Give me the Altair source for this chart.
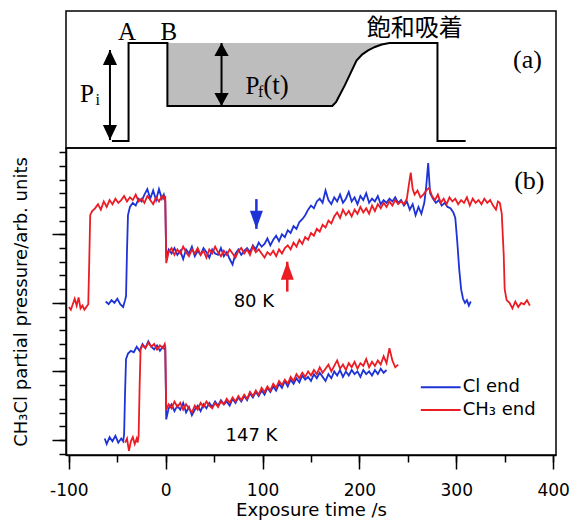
import altair as alt
import pandas as pd

BLUE = "#1d33d6"
RED = "#ec1c24"
SANS = "DejaVu Sans"
SERIF = "Liberation Serif"
CJK = "Noto Sans CJK JP"

X_DOMAIN = [-103, 403]
YB_DOMAIN = [-1.1, 21.3]
YA_DOMAIN = [-0.0714, 1.327]
PANEL_W = 490

# ---------------- panel (b) traces: (time s, signal arb.) ----------------
cl_80K = [(-62,10.1),(-59,9.9),(-56,10.2),(-53,10.0),(-50,10.3),(-47,9.9),(-44,9.7),(-42,10.2),(-41,10.5),(-40,13.8),(-39,16.4),(-37,17.0),(-34,17.3),(-31,17.1),(-28,17.6),(-25,17.4),(-22,17.9),(-19,18.3),(-16,17.6),(-13,18.2),(-10,17.5),(-7,18.3),(-4,17.6),(-2,17.9),(-0.5,17.4),(0.5,13.3),
 (3,13.9),(6,13.6),(9,14.0),(12,13.5),(15,13.8),(18,13.2),(21,13.9),(24,13.6),(27,14.1),(30,13.4),(33,13.8),(36,13.5),(39,14.0),(42,13.7),(45,13.3),(48,13.9),(51,13.6),(54,13.5),(57,14.0),(60,13.4),(63,13.7),(66,13.2),(69,12.8),(72,13.6),(75,13.9),(78,13.5),(81,13.8),(84,14.0),(87,13.7),(90,14.2),(93,13.9),(96,14.4),(99,14.1),
 (102,14.3),(105,14.7),(108,14.2),(111,14.6),(114,14.9),(117,14.5),(120,15.0),(123,14.8),(126,15.3),(129,15.1),(132,15.6),(135,15.4),(138,15.9),(141,16.1),(144,16.4),(147,16.8),(150,17.1),(153,16.9),(156,17.4),(159,17.6),(162,17.3),(165,18.2),(168,17.5),(171,17.2),(174,17.7),(177,17.4),(180,17.9),(183,17.3),(186,17.6),(189,18.1),(192,17.4),(195,17.7),(198,17.2),(201,17.8),(204,17.5),(207,18.0),(210,17.3),(213,17.6),(216,17.4),(219,17.8),(222,17.2),(225,17.5),(228,17.3),(231,17.6),(234,17.4),(237,17.7),(240,17.3),(243,17.5),(246,17.1),(249,17.4),(252,16.8),(255,17.2),(258,16.4),(261,17.0),(264,16.5),(267,17.3),(269,18.5),(271,20.2),(273,18.0),(276,17.6),(279,17.3),(282,17.5),(285,17.1),(288,17.3),(291,17.0),(294,16.9),(297,16.6),(299,16.2),(301,14.5),(303,12.5),(305,11.0),(307,10.3),(309,10.0),(311,10.2),(313,9.8),(315,10.1)]

ch3_80K = [(-100,9.7),(-98,9.5),(-96,9.9),(-94,10.3),(-92,9.8),(-90,10.4),(-88,9.6),(-86,9.8),(-84,9.5),(-82,9.7),(-80,9.9),(-79,13.0),(-78,16.4),(-76,16.7),(-73,16.9),(-70,17.2),(-67,16.8),(-64,17.4),(-61,17.0),(-58,17.5),(-55,17.2),(-52,17.6),(-49,17.3),(-46,17.5),(-43,17.8),(-40,17.4),(-37,17.7),(-34,17.5),(-31,17.9),(-28,17.4),(-25,17.6),(-22,17.3),(-19,17.8),(-16,17.5),(-13,17.2),(-10,17.7),(-7,17.4),(-4,17.8),(-2,17.6),(-0.5,17.8),(0.5,12.9),
 (3,13.7),(6,14.0),(9,13.5),(12,13.9),(15,13.6),(18,14.1),(21,13.7),(24,13.4),(27,13.9),(30,13.6),(33,14.0),(36,13.5),(39,13.8),(42,13.3),(45,13.9),(48,13.6),(51,14.1),(54,13.7),(57,13.4),(60,13.8),(63,13.5),(66,13.9),(69,13.6),(72,13.3),(75,13.8),(78,14.0),(81,13.6),(84,13.9),(87,13.5),(90,14.1),(93,13.7),(96,13.9),(99,13.6),(102,13.3),(105,13.7),(108,13.5),(111,13.8),(114,13.4),(117,13.9),(120,13.6),
 (123,14.0),(126,14.2),(129,13.9),(132,14.4),(135,14.1),(138,14.6),(141,14.3),(144,14.8),(147,14.6),(150,15.1),(153,14.9),(156,15.4),(159,15.2),(162,15.7),(165,15.5),(168,16.0),(171,15.8),(174,16.3),(177,16.6),(180,16.2),(183,16.8),(186,16.4),(189,16.7),(192,16.3),(195,16.8),(198,16.5),(201,17.0),(204,16.6),(207,16.9),(210,16.5),(213,17.1),(216,16.7),(219,17.2),(222,16.9),(225,17.3),(228,17.0),(231,17.4),(234,17.1),(237,17.5),(240,17.2),(243,17.4),(246,17.2),(249,17.6),(251,18.6),(253,19.5),(255,18.3),(257,17.9),(260,18.2),(263,17.7),(266,17.9),(269,18.2),(272,18.4),(275,17.8),(278,17.5),(281,17.9),(284,17.3),(287,17.6),(290,17.2),(293,17.7),(296,17.4),(299,17.6),(302,17.2),(305,17.5),(308,17.3),(311,17.7),(314,17.1),(317,17.6),(320,17.3),(323,17.5),(326,17.2),(329,17.6),(332,17.3),(335,17.5),(338,17.1),(341,16.8),(343,17.4),(345,17.3),(347,16.5),(349,13.5),(350,11.0),(352,10.2),(355,10.0),(358,9.6),(361,10.1),(364,9.7),(367,10.0),(370,9.9),(373,10.2),(376,9.8)]

cl_147K = [(-63,0.1),(-61,-0.3),(-58,0.2),(-55,-0.1),(-52,0.3),(-49,-0.2),(-46,0.1),(-44,-0.1),(-43,0.4),(-42,3.5),(-41,5.9),(-39,6.3),(-36,6.5),(-33,6.4),(-30,6.8),(-27,6.5),(-24,7.0),(-21,6.7),(-18,7.2),(-15,6.8),(-12,6.6),(-9,6.9),(-6,6.5),(-3,6.8),(-1,6.6),(-0.5,6.7),(0.5,1.5),
 (3,2.3),(6,2.6),(9,2.1),(12,2.5),(15,2.2),(18,2.7),(21,2.0),(24,2.4),(27,1.8),(30,2.2),(33,2.5),(36,2.1),(39,2.6),(42,2.3),(45,2.7),(48,2.4),(51,2.8),(54,2.5),(57,2.9),(60,2.6),(63,2.8),(66,2.5),(69,3.0),(72,2.7),(75,3.1),(78,2.8),(81,3.2),(84,2.9),(87,3.4),(90,3.1),(93,3.5),(96,3.2),(99,3.6),(102,3.3),(105,3.8),(108,3.5),(111,3.9),(114,3.6),(117,4.1),(120,3.8),(123,4.3),(126,3.9),(129,4.4),(132,4.1),(135,4.5),(138,4.2),(141,4.7),(144,4.4),(147,4.6),(150,4.3),(153,4.8),(156,4.5),(159,4.9),(162,4.6),(165,4.3),(168,4.8),(171,4.5),(174,5.0),(177,4.7),(180,5.1),(183,4.6),(186,5.0),(189,4.7),(192,5.1),(195,4.8),(198,5.0),(201,4.6),(204,5.1),(207,4.8),(210,5.0),(213,4.7),(216,5.1),(219,4.8),(222,5.2),(225,4.9),(228,5.1)]

ch3_147K = [(-42,-0.2),(-40,0.1),(-38,-0.8),(-36,-0.1),(-34,0.2),(-32,-0.3),(-30,0.1),(-29,-0.2),(-28,0.3),(-27,3.8),(-26,6.6),(-24,6.9),(-21,6.7),(-18,7.1),(-15,6.8),(-12,7.0),(-9,6.6),(-6,6.9),(-3,6.7),(-1,7.0),(-0.5,6.8),(0.5,2.2),
 (3,2.6),(6,2.3),(9,2.8),(12,2.4),(15,2.7),(18,2.2),(21,2.6),(24,2.3),(27,2.0),(30,2.5),(33,2.2),(36,2.7),(39,2.4),(42,2.8),(45,2.5),(48,2.3),(51,2.7),(54,2.4),(57,2.8),(60,2.6),(63,3.0),(66,2.7),(69,3.1),(72,2.8),(75,3.2),(78,2.9),(81,3.3),(84,3.0),(87,3.5),(90,3.2),(93,3.6),(96,3.3),(99,3.8),(102,3.5),(105,3.9),(108,3.6),(111,4.1),(114,3.8),(117,4.3),(120,4.0),(123,4.4),(126,4.1),(129,4.6),(132,4.3),(135,4.8),(138,4.5),(141,4.9),(144,4.6),(147,5.0),(150,4.7),(153,5.1),(156,4.8),(159,5.3),(162,4.9),(165,5.2),(168,5.5),(171,5.0),(174,5.4),(177,5.8),(180,5.2),(183,5.5),(186,5.1),(189,5.6),(192,5.3),(195,5.7),(198,5.2),(201,5.6),(204,5.4),(207,5.9),(210,5.3),(213,5.7),(216,5.4),(219,5.8),(222,5.5),(225,6.1),(228,5.6),(231,6.7),(234,5.8),(237,5.3),(240,5.5)]

# annotations of panel (b)
temp_labels = ["80 K", "147 K"]
temp_x = [91, 88.5]
temp_y = [10.1, 0.29]
legend_labels = ["Cl end", "CH\u2083 end"]
legend_colors = [BLUE, RED]
legend_y = [3.85, 2.18]
legend_x = [263.4, 304.5]
legend_text_x = 306.6
arrow_b_x = [93.6, 125.5]
arrow_b_tail = [17.57, 10.82]
arrow_b_tip = [15.40, 13.0]
arrow_b_color = [BLUE, RED]

# ---------------- panel (a) schematic ----------------
scheme_x = [-55.6, -38.4, -38.4, 1.7, 1.7, 172, 176, 185, 197, 203, 209, 216, 223, 231, 280.6, 280.6, 309.7]
scheme_y = [0, 0, 1, 1, 0.357, 0.357, 0.40, 0.57, 0.82, 0.885, 0.925, 0.96, 0.985, 1.0, 1.0, 0, 0]
fill_x = scheme_x[4:14]
fill_y = scheme_y[4:14]
arrow_a_x = [-57.6, 57.6]
arrow_a_low = [0.0102, 0.357]
arrow_a_high = [0.929, 1.0]
arrow_a_size = [900, 676]

xs = alt.Scale(domain=X_DOMAIN, nice=False, zero=False)
ybs = alt.Scale(domain=YB_DOMAIN, nice=False, zero=False)
yas = alt.Scale(domain=YA_DOMAIN, nice=False, zero=False)

UP_HEAD_B = "M0,0L-0.36,1L0.36,1Z"
DOWN_HEAD_B = "M0,0L-0.36,-1L0.36,-1Z"

# ---------- panel (a) layers ----------
scheme_df = pd.DataFrame({"x": scheme_x, "y": scheme_y, "i": list(range(len(scheme_x)))})
fill_df = pd.DataFrame({"x": fill_x, "y": fill_y, "top": [1.0] * len(fill_x)})

ax_none_x = alt.X("x:Q", scale=xs, axis=None)

fill_layer = alt.Chart(fill_df).mark_area(color="#bdbdbd", opacity=1).encode(
    x=ax_none_x, y=alt.Y("y:Q", scale=yas, axis=None), y2="top:Q")
scheme_line = alt.Chart(scheme_df).mark_line(color="black", strokeWidth=2).encode(
    x=ax_none_x, y=alt.Y("y:Q", scale=yas, axis=None), order="i:Q")

arr_a_df = pd.DataFrame({"x": arrow_a_x, "lo": arrow_a_low, "hi": arrow_a_high, "s": arrow_a_size})
arr_a_shaft = alt.Chart(arr_a_df).mark_rule(color="black", strokeWidth=2).encode(
    x=ax_none_x, y=alt.Y("lo:Q", scale=yas, axis=None), y2="hi:Q")
heads_a = []
for idx in range(2):
    sub = arr_a_df.iloc[[idx]]
    w = 0.47 if idx == 0 else 0.55
    up = f"M0,0L-{w},1L{w},1Z"
    down = f"M0,0L-{w},-1L{w},-1Z"
    heads_a.append(alt.Chart(sub).mark_point(shape=up, filled=True, color="black", opacity=1,
                                             size=float(arrow_a_size[idx]), strokeWidth=0).encode(
        x=ax_none_x, y=alt.Y("hi:Q", scale=yas, axis=None)))
    heads_a.append(alt.Chart(sub).mark_point(shape=down, filled=True, color="black", opacity=1,
                                             size=float(arrow_a_size[idx]), strokeWidth=0).encode(
        x=ax_none_x, y=alt.Y("lo:Q", scale=yas, axis=None)))


def text_layer(labels, xv, yv, font, size, yscale, align="center", color="black", weight="normal"):
    df = pd.DataFrame({"x": xv, "y": yv, "label": labels})
    return alt.Chart(df).mark_text(font=font, fontSize=size, align=align, baseline="middle",
                                   color=color, fontWeight=weight).encode(
        x=alt.X("x:Q", scale=xs, axis=None), y=alt.Y("y:Q", scale=yscale, axis=None), text="label:N")


a_serif = text_layer(["A", "B", "P", "P"], [-40.1, 3.1, -81.3, 89.5], [1.112, 1.112, 0.48, 0.561], SERIF, 25, yas)
a_sub = text_layer(["i", "f"], [-72.5, 95.2], [0.42, 0.50], SERIF, 16, yas, align="left")
a_t = text_layer(["(t)"], [100.8], [0.561], SERIF, 27, yas, align="left")
a_tag = text_layer(["(a)"], [373.5], [0.827], SERIF, 26, yas)
a_cjk = text_layer(["飽和吸着"], [257.2], [1.14], CJK, 24, yas)

panel_a = alt.layer(fill_layer, scheme_line, arr_a_shaft, *heads_a, a_serif, a_sub, a_t, a_tag, a_cjk).properties(
    width=PANEL_W, height=137)

# ---------- panel (b) layers ----------
major_x_axis = alt.Axis(values=[-100, 0, 100, 200, 300, 400], tickSize=14, labelFontSize=17, labelFont=SANS,
                        labelPadding=13, labelFlush=False, labelExpr="replace(datum.label, '\u2212', '-')",
                        title="Exposure time /s", titleFont=SANS,
                        titleFontSize=18, titleFontWeight="normal", titlePadding=3, orient="bottom", grid=False)
minor_x_axis = alt.Axis(values=[-100, -50, 0, 50, 100, 150, 200, 250, 300, 350, 400], tickSize=7, labels=False,
                        title=None, domain=False, orient="bottom", grid=False)
minor_y_axis = alt.Axis(values=list(range(-1, 22)), tickSize=7, labels=False, title=None, orient="left", grid=False)
major_y_axis = alt.Axis(values=[0, 5, 10, 15], tickSize=14, labels=False, domain=False, orient="left", grid=False,
                        title="CH\u2083Cl partial pressure/arb. units", titleFont=SANS, titleFontSize=18,
                        titleFontWeight="normal", titlePadding=21)


def trace_layer(pairs, color):
    df = pd.DataFrame(pairs, columns=["x", "y"])
    return alt.Chart(df).mark_line(color=color, strokeWidth=1.8).encode(
        x=alt.X("x:Q", scale=xs, axis=None),
        y=alt.Y("y:Q", scale=ybs, axis=None))


tr = [trace_layer(cl_80K, BLUE), trace_layer(cl_147K, BLUE),
      trace_layer(ch3_80K, RED), trace_layer(ch3_147K, RED)]

arr_b_df = pd.DataFrame({"x": arrow_b_x, "tail": arrow_b_tail, "tip": arrow_b_tip, "c": arrow_b_color})
xb = alt.X("x:Q", scale=xs, axis=None)
arr_b_shaft = alt.Chart(arr_b_df).mark_rule(strokeWidth=2.5).encode(
    x=xb, y=alt.Y("tail:Q", scale=ybs, axis=None), y2="tip:Q", color=alt.Color("c:N", scale=None))
head_blue = alt.Chart(arr_b_df.iloc[[0]]).mark_point(shape=DOWN_HEAD_B, filled=True, size=1296, opacity=1,
                                                     strokeWidth=0, color=BLUE).encode(
    x=xb, y=alt.Y("tip:Q", scale=ybs, axis=None))
head_red = alt.Chart(arr_b_df.iloc[[1]]).mark_point(shape=UP_HEAD_B, filled=True, size=1296, opacity=1,
                                                    strokeWidth=0, color=RED).encode(
    x=xb, y=alt.Y("tip:Q", scale=ybs, axis=None))

leg_df = pd.DataFrame({"x": [legend_x[0]] * 2, "x2": [legend_x[1]] * 2, "y": legend_y, "c": legend_colors})
leg_lines = alt.Chart(leg_df).mark_rule(strokeWidth=2).encode(
    x=xb, x2="x2:Q", y=alt.Y("y:Q", scale=ybs, axis=None), color=alt.Color("c:N", scale=None))
leg_text = text_layer(legend_labels, [legend_text_x] * 2, legend_y, SANS, 18, ybs, align="left")
temp_text = text_layer(temp_labels, temp_x, temp_y, SANS, 18, ybs)
b_tag = text_layer(["(b)"], [375.5], [18.88], SERIF, 26, ybs)

data_b = alt.layer(*tr, arr_b_shaft, head_blue, head_red, leg_lines, leg_text, temp_text, b_tag)

holder_df = pd.DataFrame({"x": [0], "y": [0]})
axis_holder_1 = alt.Chart(holder_df).mark_point(opacity=0).encode(
    x=alt.X("x:Q", scale=xs, axis=major_x_axis),
    y=alt.Y("y:Q", scale=ybs, axis=minor_y_axis))
axis_holder_2 = alt.Chart(holder_df).mark_point(opacity=0).encode(
    x=alt.X("x:Q", scale=xs, axis=minor_x_axis),
    y=alt.Y("y:Q", scale=ybs, axis=major_y_axis))

panel_b = alt.layer(data_b, axis_holder_1, axis_holder_2).resolve_scale(
    x="independent", y="independent").properties(width=PANEL_W, height=307)

chart = alt.vconcat(panel_a, panel_b, spacing=0, bounds="flush").properties(
    padding={"left": 3, "top": 2, "right": 0, "bottom": 0},
    background="white",
).configure_view(stroke="black", strokeWidth=1.5).configure_axis(
    domainColor="black", domainWidth=1.5, tickColor="black", tickWidth=1.5,
    labelColor="black", titleColor="black")

chart.save("out.html", embed_options={"renderer": "svg", "actions": False})
